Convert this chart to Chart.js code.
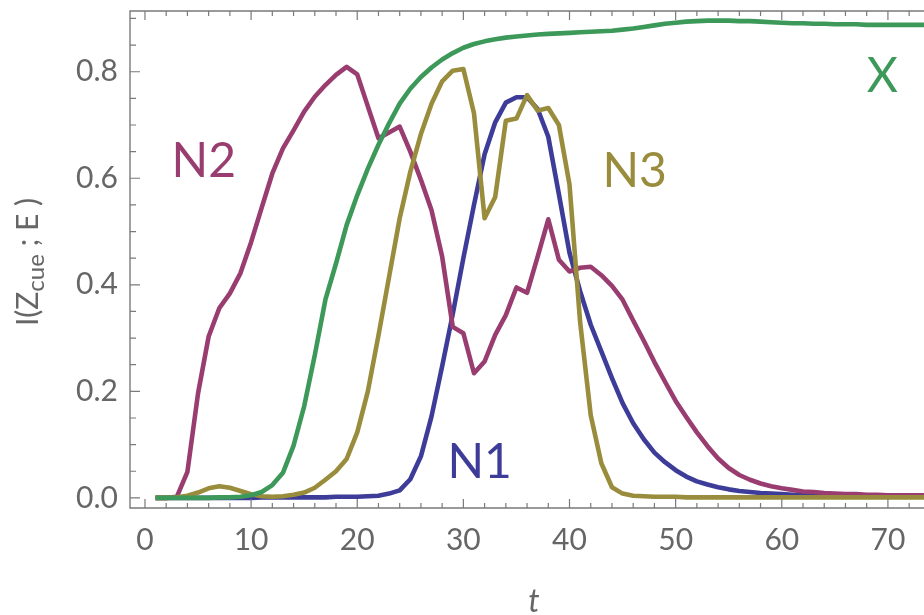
<!DOCTYPE html>
<html>
<head>
<meta charset="utf-8">
<script src="https://cdn.jsdelivr.net/npm/chart.js@4.4.0/dist/chart.umd.min.js"></script>
<style>
  html, body { margin: 0; padding: 0; background: #fff; }
  #wrap { width: 924px; height: 615px; }
</style>
</head>
<body>
<div id="wrap"><canvas id="myChart" width="924" height="615"></canvas></div>
<script>
// ------------------------------------
//  data
// ------------------------------------
const tValues = [1, 2, 3, 4, 5, 6, 7, 8, 9, 10, 11, 12, 13, 14, 15, 16, 17, 18, 19, 20,
  21, 22, 23, 24, 25, 26, 27, 28, 29, 30, 31, 32, 33, 34, 35, 36, 37, 38, 39, 40,
  41, 42, 43, 44, 45, 46, 47, 48, 49, 50, 51, 52, 53, 54, 55, 56, 57, 58, 59, 60,
  61, 62, 63, 64, 65, 66, 67, 68, 69, 70, 71, 72, 73, 74];

const n1Values = [0.000, 0.000, 0.000, 0.000, 0.000, 0.000, 0.000, 0.000, 0.000, 0.000,
  0.001, 0.001, 0.001, 0.001, 0.001, 0.001, 0.001, 0.002, 0.002, 0.002,
  0.003, 0.004, 0.008, 0.014, 0.035, 0.078, 0.153, 0.247, 0.345, 0.450,
  0.550, 0.645, 0.705, 0.742, 0.752, 0.752, 0.730, 0.678, 0.570, 0.460,
  0.388, 0.325, 0.275, 0.225, 0.178, 0.140, 0.110, 0.085, 0.067, 0.052,
  0.040, 0.031, 0.025, 0.020, 0.016, 0.013, 0.011, 0.009, 0.008, 0.007,
  0.006, 0.005, 0.005, 0.004, 0.004, 0.004, 0.003, 0.003, 0.003, 0.003,
  0.002, 0.002, 0.002, 0.002];

const n2Values = [0.000, 0.000, 0.002, 0.049, 0.196, 0.303, 0.356, 0.384, 0.422, 0.480,
  0.545, 0.609, 0.656, 0.690, 0.725, 0.753, 0.775, 0.794, 0.809, 0.795,
  0.735, 0.675, 0.686, 0.697, 0.650, 0.597, 0.540, 0.453, 0.321, 0.309,
  0.234, 0.256, 0.306, 0.343, 0.395, 0.385, 0.453, 0.523, 0.447, 0.425,
  0.432, 0.434, 0.418, 0.398, 0.372, 0.333, 0.295, 0.255, 0.218, 0.182,
  0.152, 0.123, 0.097, 0.074, 0.056, 0.043, 0.034, 0.027, 0.022, 0.018,
  0.015, 0.012, 0.011, 0.009, 0.008, 0.007, 0.007, 0.006, 0.006, 0.005,
  0.005, 0.005, 0.005, 0.005];

const n3Values = [0.000, 0.000, 0.001, 0.004, 0.010, 0.018, 0.022, 0.019, 0.013, 0.007,
  0.003, 0.002, 0.003, 0.006, 0.010, 0.019, 0.034, 0.050, 0.073, 0.123,
  0.200, 0.305, 0.415, 0.525, 0.612, 0.683, 0.740, 0.782, 0.802, 0.805,
  0.722, 0.525, 0.565, 0.708, 0.712, 0.756, 0.727, 0.732, 0.700, 0.588,
  0.330, 0.155, 0.065, 0.020, 0.008, 0.004, 0.003, 0.002, 0.002, 0.002,
  0.001, 0.001, 0.001, 0.001, 0.001, 0.001, 0.001, 0.001, 0.001, 0.001,
  0.001, 0.001, 0.001, 0.001, 0.001, 0.001, 0.001, 0.001, 0.001, 0.001,
  0.001, 0.001, 0.001, 0.001];

const xValues = [0.000, 0.000, 0.000, 0.000, 0.000, 0.000, 0.001, 0.001, 0.002, 0.005,
  0.011, 0.024, 0.047, 0.098, 0.172, 0.268, 0.372, 0.440, 0.512, 0.568,
  0.618, 0.663, 0.703, 0.740, 0.768, 0.790, 0.808, 0.823, 0.835, 0.845,
  0.852, 0.857, 0.861, 0.864, 0.866, 0.868, 0.870, 0.871, 0.872, 0.873,
  0.874, 0.875, 0.876, 0.877, 0.879, 0.881, 0.884, 0.887, 0.890, 0.892,
  0.894, 0.895, 0.896, 0.896, 0.896, 0.895, 0.895, 0.894, 0.893, 0.892,
  0.891, 0.891, 0.890, 0.890, 0.889, 0.889, 0.889, 0.888, 0.888, 0.888,
  0.888, 0.888, 0.888, 0.888];

const xTickValues = [0, 10, 20, 30, 40, 50, 60, 70];
const yTickValues = [0.0, 0.2, 0.4, 0.6, 0.8];

const seriesNames = ["N1", "N2", "N3", "X"];
const seriesColors = ["#3d3d99", "#993d70", "#998d3d", "#3d9959"];

// where the curve names sit, in data units (left edge, baseline)
const namePlacement = {
  N1: [28.5, 0.038],
  N2: [2.5, 0.602],
  N3: [43.1, 0.583],
  X: [68.0, 0.762],
};

const axisGray = "#666666";
const frameGray = "#7a7a7a";
const ctx = document.getElementById("myChart");

function toPoints(values) {
  return tValues.map((t, i) => ({ x: t, y: values[i] }));
}

function makeDataset(name, values) {
  const i = seriesNames.indexOf(name);
  return {
    label: name,
    data: toPoints(values),
    borderColor: seriesColors[i],
    borderWidth: 4.6,
    pointRadius: 0,
    tension: 0,
    fill: false,
    borderJoinStyle: "round",
  };
}

// frame with inward ticks, axis titles and curve names
const framePlugin = {
  id: "frame",
  afterDraw(chart) {
    const c = chart.ctx;
    const a = chart.chartArea;
    const x = chart.scales.x;
    const y = chart.scales.y;
    c.save();
    c.strokeStyle = frameGray;
    c.lineWidth = 1.4;
    c.beginPath();
    c.moveTo(a.right + 2, a.top);
    c.lineTo(a.left, a.top);
    c.lineTo(a.left, a.bottom);
    c.lineTo(a.right + 2, a.bottom);
    c.stroke();

    c.lineWidth = 1.2;
    c.beginPath();
    for (let v = 0; v <= 72; v += 2) {
      const px = x.getPixelForValue(v);
      const len = v % 10 === 0 ? 9 : 5;
      c.moveTo(px, a.bottom);
      c.lineTo(px, a.bottom - len);
      c.moveTo(px, a.top);
      c.lineTo(px, a.top + len);
    }
    for (let k = 0; k <= 18; k++) {
      const py = y.getPixelForValue(k * 0.05);
      const len = k % 4 === 0 ? 10 : 6;
      c.moveTo(a.left, py);
      c.lineTo(a.left + len, py);
    }
    c.stroke();

    // x title
    c.fillStyle = axisGray;
    c.font = "italic 32px Lato";
    c.textAlign = "center";
    c.textBaseline = "alphabetic";
    c.fillText("t", 534, 612);

    // y title  I(Z_cue ; E )
    c.save();
    c.translate(38, 262);
    c.rotate(-Math.PI / 2);
    c.textAlign = "left";
    const parts = [
      ["I(", "30px Lato", 0],
      ["Z", "30px Lato", 0],
      ["cue", "24px Lato", 6],
      [" ; E )", "30px Lato", 0],
    ];
    let total = 0;
    parts.forEach((p) => { c.font = p[1]; total += c.measureText(p[0]).width; });
    let cx = -total / 2;
    parts.forEach((p) => {
      c.font = p[1];
      c.fillText(p[0], cx, p[2]);
      cx += c.measureText(p[0]).width;
    });
    c.restore();

    // curve names
    c.font = "48px Lato";
    c.textAlign = "left";
    seriesNames.forEach((name, i) => {
      const pos = namePlacement[name];
      c.fillStyle = seriesColors[i];
      c.fillText(name, x.getPixelForValue(pos[0]), y.getPixelForValue(pos[1]));
    });
    c.restore();
  },
};

new Chart(ctx, {
  type: "line",
  data: {
    datasets: [
      makeDataset("X", xValues),
      makeDataset("N3", n3Values),
      makeDataset("N2", n2Values),
      makeDataset("N1", n1Values),
    ],
  },
  options: {
    responsive: false,
    animation: false,
    layout: { padding: { top: 11, right: 0, bottom: 0, left: 0 } },
    plugins: {
      legend: { display: false },
      tooltip: { enabled: false },
    },
    scales: {
      x: {
        type: "linear",
        min: -1.41,
        max: 73.4,
        grid: { display: false, drawTicks: false },
        border: { display: false },
        afterBuildTicks: (s) => { s.ticks = xTickValues.map((v) => ({ value: v })); },
        afterFit: (s) => {
          s.height = 107;
          s.paddingLeft = 0;
          s.paddingRight = 0;
        },
        ticks: {
          padding: 14,
          color: axisGray,
          font: { family: "Lato", size: 30 },
          maxRotation: 0,
          autoSkip: false,
          callback: (v) => String(v),
        },
      },
      y: {
        type: "linear",
        min: -0.019,
        max: 0.914,
        grid: { display: false, drawTicks: false },
        border: { display: false },
        afterBuildTicks: (s) => { s.ticks = yTickValues.map((v) => ({ value: v })); },
        afterFit: (s) => {
          s.width = 130;
          s.paddingTop = 0;
          s.paddingBottom = 0;
        },
        ticks: {
          padding: 12,
          color: axisGray,
          font: { family: "Lato", size: 30 },
          autoSkip: false,
          callback: (v) => v.toFixed(1),
        },
      },
    },
  },
  plugins: [framePlugin],
});
</script>
</body>
</html>
